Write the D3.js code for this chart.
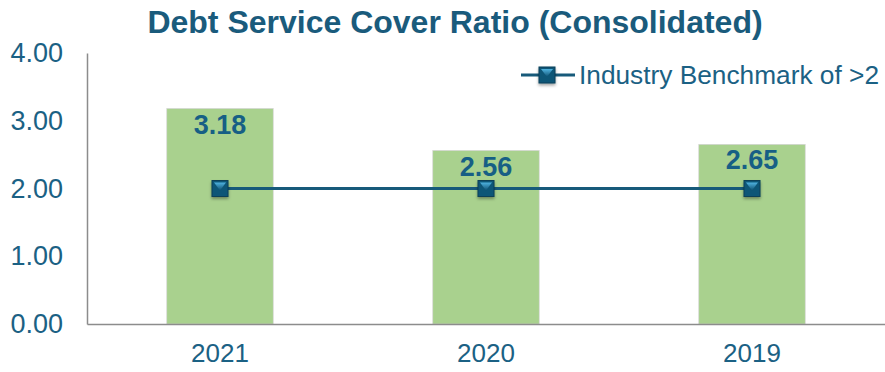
<!DOCTYPE html>
<html>
<head>
<meta charset="utf-8">
<script src="https://cdn.jsdelivr.net/npm/d3@7"></script>
<style>
  body { margin: 0; background: #fff; }
  svg { display: block; font-family: "Liberation Sans", Arial, sans-serif; }
</style>
</head>
<body>
<div id="chart"></div>
<script>
const years = ["2021", "2020", "2019"];
const dscr = [3.18, 2.56, 2.65];
const benchmark = [2, 2, 2];
const yTicks = [0, 1, 2, 3, 4];

const WIDTH = 885;
const HEIGHT = 372;
const TEXT_COLOR = "#1b6184";
const BAR_COLOR = "#a9d18e";
const LINE_COLOR = "#175a7a";

const margin = { top: 53, right: 0, bottom: 48, left: 87 };
const width = WIDTH - margin.left - margin.right;
const height = HEIGHT - margin.top - margin.bottom;

const svg = d3.select("#chart")
  .append("svg")
  .attr("width", WIDTH)
  .attr("height", HEIGHT);

const defs = svg.append("defs");
const grad = defs.append("linearGradient")
  .attr("id", "markerGrad")
  .attr("x1", 0).attr("y1", 0).attr("x2", 0).attr("y2", 1);
grad.append("stop").attr("offset", "0%").attr("stop-color", "#4fb3e0");
grad.append("stop").attr("offset", "100%").attr("stop-color", "#0d4f70");

const filter = defs.append("filter").attr("id", "shadow")
  .attr("x", "-50%").attr("y", "-50%").attr("width", "200%").attr("height", "200%");
filter.append("feDropShadow")
  .attr("dx", 0).attr("dy", 2).attr("stdDeviation", 1.5)
  .attr("flood-color", "#000").attr("flood-opacity", 0.35);

// title
svg.append("text")
  .attr("x", 455)
  .attr("y", 33)
  .attr("text-anchor", "middle")
  .attr("font-size", "32px")
  .attr("font-weight", "bold")
  .attr("fill", "#1a5b7c")
  .text("Debt Service Cover Ratio (Consolidated)");

const g = svg.append("g")
  .attr("transform", `translate(${margin.left},${margin.top})`);

const x = d3.scaleBand()
  .domain(years)
  .range([0, width])
  .paddingInner(0.6)
  .paddingOuter(0.3);

const y = d3.scaleLinear()
  .domain([0, 4])
  .range([height, 0]);

// bars
g.selectAll(".bar")
  .data(years)
  .enter()
  .append("rect")
  .attr("class", "bar")
  .attr("x", d => x(d))
  .attr("y", (d, i) => y(dscr[i]))
  .attr("width", x.bandwidth())
  .attr("height", (d, i) => height - y(dscr[i]))
  .attr("fill", BAR_COLOR)
  .attr("stroke", "#d0d0d0")
  .attr("stroke-width", 0.6);

// axes
const yAxis = g.append("g")
  .call(d3.axisLeft(y).tickValues(yTicks).tickFormat(d3.format(".2f")).tickSize(0).tickPadding(24));
yAxis.select(".domain").attr("stroke", "#8c8c8c").attr("stroke-width", 1.5);
yAxis.selectAll("text")
  .attr("fill", TEXT_COLOR)
  .attr("font-size", "27px")
  .attr("font-family", "Liberation Sans, Arial, sans-serif");

const xAxis = g.append("g")
  .attr("transform", `translate(0,${height})`)
  .call(d3.axisBottom(x).tickSize(0).tickPadding(20));
xAxis.select(".domain").attr("stroke", "#8c8c8c").attr("stroke-width", 1.5);
xAxis.selectAll("text")
  .attr("fill", TEXT_COLOR)
  .attr("font-size", "26px")
  .attr("font-family", "Liberation Sans, Arial, sans-serif");

// value labels
g.selectAll(".val")
  .data(years)
  .enter()
  .append("text")
  .attr("class", "val")
  .attr("x", d => x(d) + x.bandwidth() / 2)
  .attr("y", (d, i) => y(dscr[i]) + 25)
  .attr("text-anchor", "middle")
  .attr("font-size", "27px")
  .attr("font-weight", "bold")
  .attr("fill", "#175f85")
  .text((d, i) => d3.format(".2f")(dscr[i]));

// benchmark line
const line = d3.line()
  .x((d, i) => x(years[i]) + x.bandwidth() / 2)
  .y(d => y(d));

g.append("path")
  .datum(benchmark)
  .attr("d", line)
  .attr("fill", "none")
  .attr("stroke", LINE_COLOR)
  .attr("stroke-width", 3);

function drawMarker(sel, cx, cy) {
  const s = 16;
  const m = sel.append("g")
    .attr("transform", `translate(${cx},${cy})`)
    .attr("filter", "url(#shadow)");
  m.append("rect")
    .attr("x", -s / 2).attr("y", -s / 2)
    .attr("width", s).attr("height", s)
    .attr("fill", "#0f5677")
    .attr("stroke", "#0b3f58")
    .attr("stroke-width", 1);
  m.append("path")
    .attr("d", `M${-s / 2 + 2},${-s / 2 + 2} L${s / 2 - 2},${-s / 2 + 2} L0,${2} Z`)
    .attr("fill", "url(#markerGrad)");
}

benchmark.forEach((v, i) => {
  drawMarker(g, x(years[i]) + x.bandwidth() / 2, y(v));
});

// legend
const legend = svg.append("g").attr("transform", "translate(521,75)");
legend.append("line")
  .attr("x1", 0).attr("x2", 54)
  .attr("y1", 0).attr("y2", 0)
  .attr("stroke", LINE_COLOR)
  .attr("stroke-width", 3);
drawMarker(legend, 26, 0);
legend.append("text")
  .attr("x", 58)
  .attr("y", 9)
  .attr("font-size", "26px")
  .attr("textLength", 300)
  .attr("lengthAdjust", "spacingAndGlyphs")
  .attr("fill", TEXT_COLOR)
  .text("Industry Benchmark of >2");
</script>
</body>
</html>
